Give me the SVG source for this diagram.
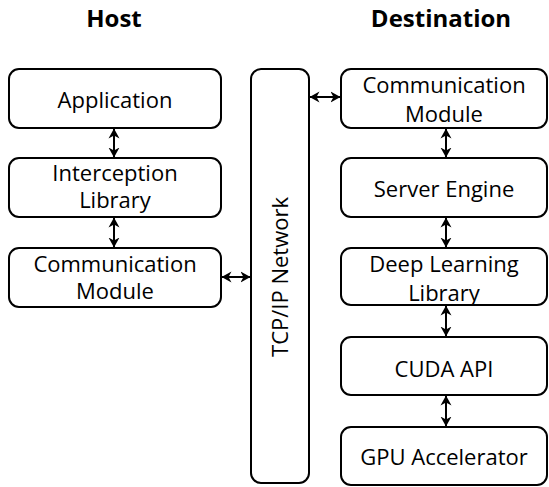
<svg xmlns="http://www.w3.org/2000/svg" width="549" height="487" viewBox="0 0 549 487">
  <style>
    .box { fill: #ffffff; stroke: #000000; stroke-width: 2; }
    .label { font-family: "Open Sans", "Liberation Sans", sans-serif; font-size: 22px; fill: #000000; text-anchor: middle; }
    .title { font-family: "Open Sans", "Liberation Sans", sans-serif; font-size: 24px; font-weight: bold; fill: #000000; text-anchor: middle; }
    .link { stroke: #000000; stroke-width: 2; fill: none; marker-start: url(#head); marker-end: url(#head); }
  </style>
  <defs>
    <marker id="head" viewBox="0 0 10 12" refX="9.5" refY="6" markerWidth="10" markerHeight="12" markerUnits="userSpaceOnUse" orient="auto-start-reverse">
      <path d="M0,0.5 L10,6 L0,11.5 L3,6 Z" fill="#000000"/>
    </marker>
  </defs>
  <rect width="549" height="487" fill="#ffffff"/>

  <!-- column headings -->
  <text class="title" x="114" y="27">Host</text>
  <text class="title" x="441" y="27">Destination</text>

  <!-- host stack -->
  <g id="host-application">
    <rect class="box" x="9" y="69" width="212" height="59" rx="10"/>
    <text class="label" x="115" y="108">Application</text>
  </g>
  <g id="host-interception">
    <rect class="box" x="9" y="158" width="212" height="59" rx="10"/>
    <text class="label" x="115" y="181">Interception</text>
    <text class="label" x="115" y="208">Library</text>
  </g>
  <g id="host-communication">
    <rect class="box" x="9" y="248" width="212" height="59" rx="10"/>
    <text class="label" x="115" y="272">Communication</text>
    <text class="label" x="115" y="299">Module</text>
  </g>

  <!-- network -->
  <g id="network">
    <rect class="box" x="251" y="69" width="58" height="414" rx="10"/>
    <text class="label" transform="translate(288,277) rotate(-90)" x="0" y="0">TCP/IP Network</text>
  </g>

  <!-- destination stack -->
  <g id="dest-communication">
    <rect class="box" x="341" y="69" width="206" height="59" rx="10"/>
    <text class="label" x="444" y="93">Communication</text>
    <text class="label" x="444" y="122">Module</text>
  </g>
  <g id="dest-server">
    <rect class="box" x="341" y="158" width="206" height="59" rx="10"/>
    <text class="label" x="444" y="197">Server Engine</text>
  </g>
  <g id="dest-dl">
    <rect class="box" x="341" y="248" width="206" height="57" rx="10"/>
    <text class="label" x="444" y="272">Deep Learning</text>
    <text class="label" x="444" y="301">Library</text>
  </g>
  <g id="dest-cuda">
    <rect class="box" x="341" y="337" width="206" height="58" rx="10"/>
    <text class="label" x="444" y="377">CUDA API</text>
  </g>
  <g id="dest-gpu">
    <rect class="box" x="341" y="427" width="206" height="58" rx="10"/>
    <text class="label" x="444" y="465">GPU Accelerator</text>
  </g>

  <!-- connectors -->
  <g id="connectors">
    <line class="link" x1="114" y1="129" x2="114" y2="157"/>
    <line class="link" x1="114" y1="218" x2="114" y2="247"/>
    <line class="link" x1="222" y1="277" x2="250" y2="277"/>
    <line class="link" x1="310" y1="97" x2="340" y2="97"/>
    <line class="link" x1="446" y1="129" x2="446" y2="157"/>
    <line class="link" x1="446" y1="218" x2="446" y2="247"/>
    <line class="link" x1="446" y1="306" x2="446" y2="336"/>
    <line class="link" x1="446" y1="396" x2="446" y2="426"/>
  </g>
</svg>
